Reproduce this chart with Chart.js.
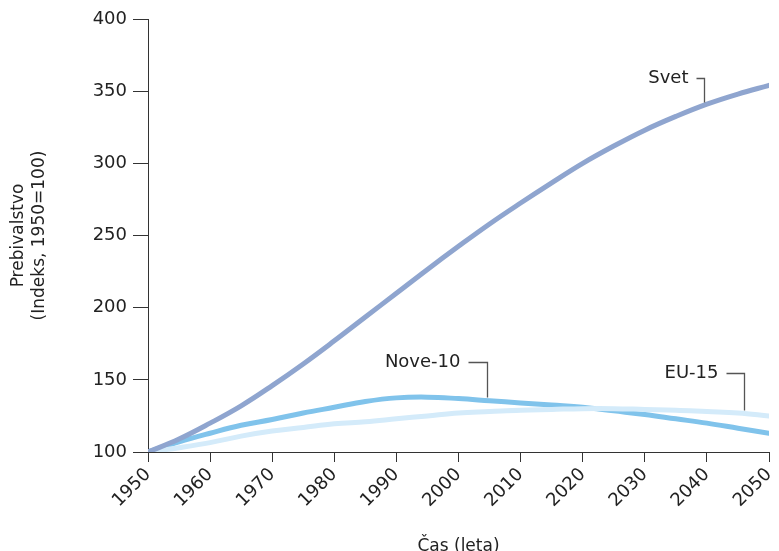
<!DOCTYPE html>
<html lang="sl">
  <head>
    <meta charset="UTF-8" />
    <title>Prebivalstvo</title>
    <script src="https://cdn.jsdelivr.net/npm/chart.js@4"></script>
    <style>
      html, body { margin: 0; padding: 0; background: #fff; }
      #popChart { display: block; }
    </style>
  </head>
  <body>
    <canvas id="popChart" width="779" height="551"></canvas>
    <script>
      // leta (5-letni koraki)
      const years = [1950, 1955, 1960, 1965, 1970, 1975, 1980, 1985, 1990, 1995, 2000,
                     2005, 2010, 2015, 2020, 2025, 2030, 2035, 2040, 2045, 2050];
      const svet = [100, 109, 120, 132, 146, 161, 177, 193.5, 210, 226.5, 242.5,
                    258, 272.5, 286.5, 300, 312, 323, 332.5, 341, 348, 354];
      const nove10 = [100, 107, 113, 118.5, 122.5, 127, 131, 135, 137.5, 138, 137,
                      135.5, 134, 132.5, 131, 128.5, 126, 123, 120, 116.5, 113];
      const eu15 = [100, 103, 106.5, 111, 114.5, 117, 119.5, 121, 123, 125, 127,
                    128, 129, 129.5, 130, 130, 129.5, 129, 128, 127, 125];
      const xTicks = [1950, 1960, 1970, 1980, 1990, 2000, 2010, 2020, 2030, 2040, 2050];
      const yTicks = [100, 150, 200, 250, 300, 350, 400];

      const FONT = "'DejaVu Sans', Verdana, sans-serif";
      const AXIS = "#333";

      function pts(arr) {
        return years.map((y, i) => ({ x: y, y: arr[i] }));
      }

      function valueAt(arr, year) {
        for (let i = 0; i < years.length - 1; i++) {
          if (year >= years[i] && year <= years[i + 1]) {
            const t = (year - years[i]) / (years[i + 1] - years[i]);
            return arr[i] + t * (arr[i + 1] - arr[i]);
          }
        }
        return arr[arr.length - 1];
      }

      // oznake serij s kazalnimi črtami
      const labelPlugin = {
        id: "seriesLabels",
        afterDatasetsDraw(chart) {
          const ctx = chart.ctx;
          const xs = chart.scales.x;
          const ys = chart.scales.y;
          const items = [
            { text: "Svet", data: svet, year: 2039.5, elbow: 359, arm: 8 },
            { text: "Nove-10", data: nove10, year: 2004.6, elbow: 162.5, arm: 19 },
            { text: "EU-15", data: eu15, year: 2046, elbow: 154.5, arm: 18 },
          ];
          ctx.save();
          ctx.font = "18px " + FONT;
          ctx.textAlign = "right";
          ctx.textBaseline = "middle";
          items.forEach((it) => {
            const px = Math.round(xs.getPixelForValue(it.year)) + 0.5;
            const ey = Math.round(ys.getPixelForValue(it.elbow)) + 0.5;
            const ly = ys.getPixelForValue(valueAt(it.data, it.year)) - 3;
            ctx.strokeStyle = "#555";
            ctx.lineWidth = 1.3;
            ctx.beginPath();
            ctx.moveTo(px - it.arm, ey);
            ctx.lineTo(px, ey);
            ctx.lineTo(px, ly);
            ctx.stroke();
            ctx.fillStyle = "#222";
            ctx.fillText(it.text, px - it.arm - 8, ey);
          });
          ctx.restore();
        },
      };

      const config = {
        type: "line",
        data: {
          datasets: [
            { label: "Svet", data: pts(svet), borderColor: "rgb(143,165,207)", order: 1 },
            { label: "EU-15", data: pts(eu15), borderColor: "rgb(212,235,250)", order: 2 },
            { label: "Nove-10", data: pts(nove10), borderColor: "rgb(128,195,235)", order: 3 },
          ],
        },
        options: {
          responsive: false,
          animation: false,
          layout: { padding: { top: 19, right: 10, left: 8, bottom: 0 } },
          elements: {
            line: { borderWidth: 5, tension: 0.4, borderCapStyle: "round", fill: false },
            point: { radius: 0 },
          },
          plugins: { legend: { display: false }, tooltip: { enabled: false } },
          scales: {
            x: {
              type: "linear",
              min: 1950,
              max: 2050,
              afterBuildTicks(s) { s.ticks = xTicks.map((v) => ({ value: v })); },
              afterFit(s) {
                s.height = 99;
                s.paddingLeft = 0;
                s.paddingRight = 0;
              },
              ticks: {
                font: { family: FONT, size: 18 },
                color: "#222",
                maxRotation: 45,
                minRotation: 45,
                padding: 2,
                callback: (v) => String(v),
              },
              grid: { drawOnChartArea: false, drawTicks: true, tickLength: 10, color: AXIS },
              border: { display: true, color: AXIS, width: 1 },
              title: {
                display: true,
                text: "Čas (leta)",
                font: { family: FONT, size: 17 },
                color: "#222",
                padding: { top: 0, bottom: -6 },
              },
            },
            y: {
              min: 100,
              max: 400,
              afterBuildTicks(s) { s.ticks = yTicks.map((v) => ({ value: v })); },
              afterFit(s) {
                s.width = 140;
                s.paddingTop = 0;
                s.paddingBottom = 0;
              },
              ticks: {
                font: { family: FONT, size: 18 },
                color: "#222",
                padding: 6,
              },
              grid: { drawOnChartArea: false, drawTicks: true, tickLength: 15, color: AXIS },
              border: { display: true, color: AXIS, width: 1 },
              title: {
                display: true,
                text: ["Prebivalstvo", "(Indeks, 1950=100)"],
                font: { family: FONT, size: 17, lineHeight: 1.25 },
                color: "#222",
                padding: { top: 0, bottom: 0 },
              },
            },
          },
        },
        plugins: [labelPlugin],
      };

      new Chart(document.getElementById("popChart"), config);
    </script>
  </body>
</html>
